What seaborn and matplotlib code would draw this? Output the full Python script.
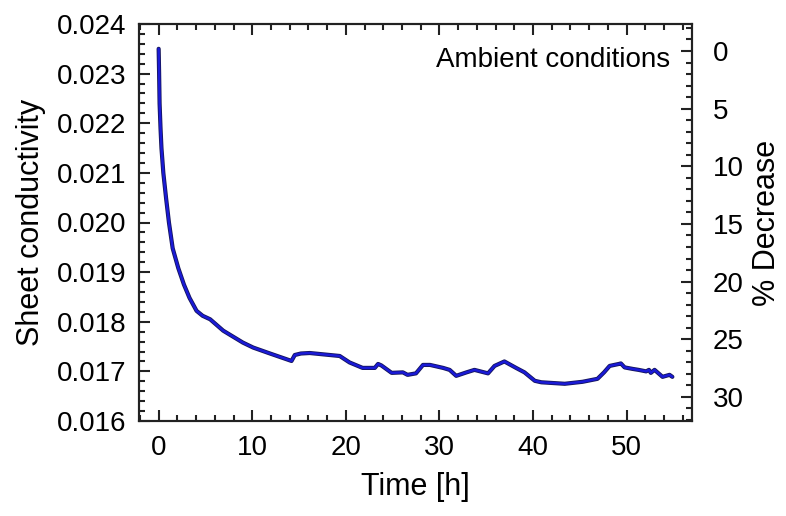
import numpy as np
import pandas as pd
import matplotlib
matplotlib.use("Agg")
import matplotlib.pyplot as plt
import matplotlib.patheffects as pe
from matplotlib.ticker import MultipleLocator
import seaborn as sns

# ================= DADOS =================
tempo_h = [0.0, 0.05, 0.1, 0.2, 0.3, 0.5, 0.8, 1.1, 1.5, 2.1, 2.7, 3.3, 4.05, 4.7,
           5.5, 6.9, 7.6, 9.0, 10.1, 11.9, 14.2, 14.55, 15.2, 16.15, 19.35, 20.4,
           21.8, 23.1, 23.45, 23.8, 24.9, 26.1, 26.6, 27.5, 28.25, 29.0, 30.4, 31.1,
           31.8, 32.9, 33.75, 35.2, 35.9, 36.95, 38.2, 39.1, 40.2, 40.9, 43.4, 45.3,
           46.9, 47.6, 48.2, 49.2, 49.4, 49.8, 50.65, 51.3, 52.1, 52.4, 52.6, 53.0,
           53.85, 54.6, 54.9]
condutividade = [0.02350, 0.02300, 0.02240, 0.02190, 0.02150, 0.02100, 0.02048,
                 0.02000, 0.01948, 0.01908, 0.01875, 0.01848, 0.01822, 0.01812,
                 0.01805, 0.01782, 0.01774, 0.01758, 0.01748, 0.01736, 0.01721,
                 0.01733, 0.01736, 0.01737, 0.01731, 0.01718, 0.01707, 0.01707,
                 0.01715, 0.01712, 0.01697, 0.01698, 0.01693, 0.01696, 0.01713,
                 0.01713, 0.01707, 0.01703, 0.01691, 0.01698, 0.01703, 0.01696,
                 0.01711, 0.01720, 0.01707, 0.01698, 0.01681, 0.01678, 0.01675,
                 0.01679, 0.01685, 0.01698, 0.01711, 0.01715, 0.01716, 0.01708,
                 0.01705, 0.01703, 0.01700, 0.01703, 0.01697, 0.01703, 0.01689,
                 0.01693, 0.01689]

ticks_cond = [0.016, 0.017, 0.018, 0.019, 0.020, 0.021, 0.022, 0.023, 0.024]
ticks_pct = [0, 5, 10, 15, 20, 25, 30]

# ================= ESTILO =================
sns.set_theme(style="ticks")
plt.rcParams['font.family'] = ['Liberation Sans', 'DejaVu Sans']
plt.rcParams['axes.linewidth'] = 1.5
plt.rcParams['text.color'] = 'black'
plt.rcParams['axes.labelcolor'] = 'black'

df = pd.DataFrame({'Tempo': tempo_h, 'Cond': condutividade})

fig = plt.figure(figsize=(7.86, 5.16), dpi=100)
ax = fig.add_axes([139 / 786, 1 - 421 / 516, (692 - 139) / 786, (421 - 24) / 516])

sns.lineplot(data=df, x='Tempo', y='Cond', ax=ax, color='#1a1ad6', linewidth=1.8,
             path_effects=[pe.Stroke(linewidth=3.0, foreground='#14145a'), pe.Normal()])

ax.set_xlim(-2.1, 57.0)
ax.set_ylim(0.016, 0.024)
ax.set_xticks([0, 10, 20, 30, 40, 50])
ax.set_yticks(ticks_cond)
ax.set_yticklabels([f"{v:.3f}" for v in ticks_cond])
ax.xaxis.set_minor_locator(MultipleLocator(2))
ax.yaxis.set_minor_locator(MultipleLocator(0.0002))
ax.tick_params(which='both', direction='in', top=True, right=False, width=1.5, colors='#222222',
               labelcolor='black')
ax.tick_params(which='major', length=8)
ax.tick_params(which='minor', length=4.5)
ax.tick_params(axis='y', labelsize=20, pad=9)
ax.tick_params(axis='x', labelsize=20, pad=10)
ax.set_xlabel("Time [h]", fontsize=22, labelpad=8)
ax.set_ylabel("Sheet conductivity", fontsize=22, labelpad=8)
for s in ax.spines.values():
    s.set_color('#222222')

ax.text(0.96, 0.91, "Ambient conditions", transform=ax.transAxes, ha='right', va='center',
        fontsize=20)

# Eixo direito: % de decréscimo
ax2 = ax.twinx()
ax2.set_ylim(32.09, -2.34)
ax2.set_yticks(ticks_pct)
ax2.yaxis.set_minor_locator(MultipleLocator(1))
ax2.tick_params(which='both', direction='in', width=1.5, colors='#222222', labelcolor='black')
ax2.tick_params(which='major', length=8, labelsize=20, pad=15)
ax2.tick_params(which='minor', length=4.5)
ax2.set_ylabel("% Decrease", fontsize=22, labelpad=6)
for s in ax2.spines.values():
    s.set_color('#222222')

fig.savefig("out.png", dpi=100)
